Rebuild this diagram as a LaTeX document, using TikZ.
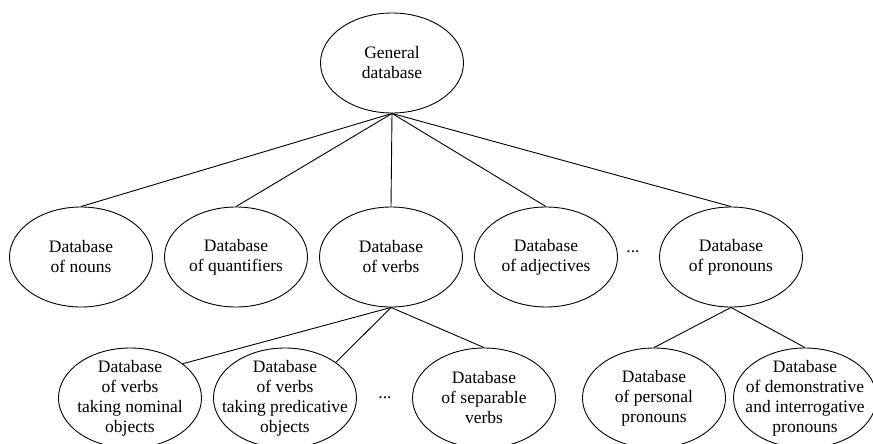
\documentclass[tikz,border=0pt]{standalone}
\usepackage{fontspec}
\setmainfont{Liberation Serif}
\usetikzlibrary{shapes.geometric}
\begin{document}
\begin{tikzpicture}[x=1pt,y=-1pt,
  db/.style={ellipse,draw,line width=0.9pt,minimum width=143pt,minimum height=100pt,inner sep=-22pt,align=center,font=\fontsize{17.5}{20}\selectfont},
  conn/.style={line width=0.9pt},
  dots/.style={font=\fontsize{17.5}{20}\selectfont}]
\useasboundingbox (0,0) rectangle (873,444);
\node[db] (gen) at (392,63) {General\\database};
\node[db] (nouns) at (81,257) {Database\\of nouns};
\node[db] (quant) at (236,257) {Database\\of quantifiers};
\node[db] (verbs) at (391,257) {Database\\of verbs};
\node[db] (adj) at (546,257) {Database\\of adjectives};
\node[dots] (d1) at (633,252) {...};
\node[db] (pron) at (731,257) {Database\\of pronouns};
\node[db] (nom) at (130,398) {Database\\of verbs\\taking nominal\\objects};
\node[db] (pred) at (285,398) {Database\\of verbs\\taking predicative\\objects};
\node[dots] (d2) at (385,398) {...};
\node[db] (sep) at (484,398) {Database\\of separable\\verbs};
\node[db] (pers) at (654,398) {Database\\of personal\\pronouns};
\node[db] (dem) at (805,398) {Database\\of demonstrative\\and interrogative\\pronouns};
\draw[conn] (gen.south) -- (nouns.north);
\draw[conn] (gen.south) -- (quant.north);
\draw[conn] (gen.south) -- (verbs.north);
\draw[conn] (gen.south) -- (adj.north);
\draw[conn] (gen.south) -- (pron.north);
\draw[conn] (verbs.south) -- (nom.33);
\draw[conn] (verbs.south) -- (pred.35);
\draw[conn] (verbs.south) -- (sep.north);
\draw[conn] (pron.south) -- (pers.north);
\draw[conn] (pron.south) -- (dem.north);
\end{tikzpicture}
\end{document}
